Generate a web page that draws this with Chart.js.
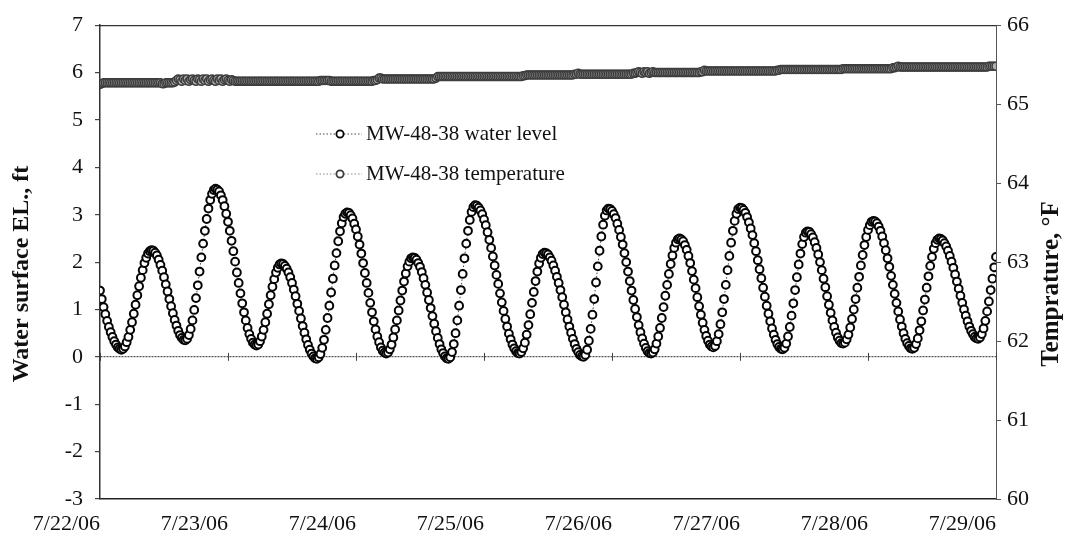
<!DOCTYPE html>
<html>
<head>
<meta charset="utf-8">
<script src="https://cdn.jsdelivr.net/npm/chart.js@4.4.1/dist/chart.umd.min.js"></script>
<style>
  html, body { margin: 0; padding: 0; background: #ffffff; }
  #wrap { width: 1070px; height: 546px; position: relative; }
</style>
</head>
<body>
<div id="wrap"><canvas id="c" width="1070" height="546"></canvas></div>
<script>
// Day boundaries shown on the time axis (one tick every 24 h)
const dayLabels = ['7/22/06', '7/23/06', '7/24/06', '7/25/06', '7/26/06', '7/27/06', '7/28/06', '7/29/06'];

// Logger interval, minutes
const SAMPLE_MINUTES = 20;

// MW-48-38 water surface elevation, ft (left axis)
const waterLevel = [
  1.40,1.22,1.05,0.90,0.76,0.63,0.52,0.42,0.33,0.26,0.20,0.17,0.15,
  0.17,0.22,0.31,0.42,0.57,0.73,0.91,1.10,1.30,1.49,1.67,1.83,1.98,2.09,2.18,2.23,2.25,
  2.24,2.20,2.14,2.05,1.94,1.82,1.68,1.53,1.38,1.22,1.07,0.92,0.78,0.66,0.55,0.46,0.40,0.36,0.35,
  0.38,0.46,0.59,0.77,0.99,1.24,1.51,1.80,2.10,2.39,2.66,2.91,3.13,3.31,3.44,3.52,3.55,
  3.53,3.49,3.41,3.31,3.18,3.02,2.85,2.66,2.45,2.23,2.01,1.78,1.56,1.34,1.13,0.94,0.77,0.61,0.48,0.38,0.30,0.26,0.24,
  0.26,0.33,0.43,0.57,0.73,0.91,1.11,1.30,1.48,1.64,1.78,1.88,1.95,1.97,
  1.96,1.92,1.86,1.78,1.68,1.56,1.42,1.28,1.12,0.97,0.81,0.65,0.51,0.37,0.25,0.15,0.07,0.01,-0.03,-0.04,
  -0.01,0.06,0.19,0.36,0.57,0.82,1.08,1.36,1.65,1.93,2.19,2.44,2.65,2.82,2.95,3.02,3.05,
  3.04,2.99,2.92,2.81,2.69,2.54,2.37,2.18,1.98,1.77,1.56,1.35,1.14,0.94,0.75,0.58,0.43,0.31,0.20,0.13,0.09,0.07,
  0.09,0.16,0.26,0.41,0.58,0.77,0.98,1.19,1.40,1.59,1.76,1.91,2.01,2.08,2.10,
  2.09,2.05,1.98,1.90,1.79,1.66,1.52,1.36,1.20,1.03,0.86,0.70,0.54,0.40,0.27,0.16,0.08,0.01,-0.03,-0.04,
  -0.01,0.10,0.27,0.50,0.77,1.08,1.41,1.75,2.08,2.39,2.66,2.89,3.06,3.16,3.20,
  3.19,3.15,3.09,3.01,2.90,2.78,2.63,2.47,2.30,2.12,1.93,1.73,1.54,1.34,1.15,0.97,0.80,0.64,0.49,0.37,0.26,0.18,0.12,0.08,0.07,
  0.10,0.18,0.30,0.47,0.67,0.90,1.14,1.37,1.60,1.80,1.97,2.09,2.17,2.20,
  2.19,2.16,2.10,2.03,1.93,1.82,1.69,1.56,1.41,1.26,1.10,0.94,0.79,0.64,0.51,0.38,0.27,0.17,0.10,0.04,0.01,0.00,
  0.04,0.15,0.34,0.59,0.89,1.22,1.57,1.91,2.24,2.54,2.79,2.98,3.09,3.13,
  3.12,3.08,3.01,2.93,2.81,2.68,2.53,2.37,2.19,2.00,1.80,1.60,1.40,1.20,1.01,0.84,0.67,0.52,0.39,0.28,0.19,0.12,0.08,0.07,
  0.09,0.16,0.28,0.43,0.61,0.82,1.05,1.29,1.52,1.75,1.96,2.14,2.30,2.41,2.48,2.50,
  2.48,2.44,2.36,2.26,2.13,1.98,1.81,1.63,1.45,1.26,1.07,0.89,0.72,0.57,0.44,0.34,0.26,0.22,0.20,
  0.23,0.33,0.48,0.69,0.94,1.22,1.52,1.83,2.13,2.41,2.66,2.87,3.02,3.12,3.15,
  3.14,3.10,3.04,2.95,2.84,2.71,2.57,2.40,2.23,2.04,1.85,1.66,1.46,1.27,1.08,0.91,0.75,0.60,0.47,0.36,0.27,0.21,0.17,0.16,
  0.19,0.28,0.43,0.63,0.87,1.13,1.41,1.68,1.95,2.18,2.38,2.53,2.62,2.65,
  2.64,2.59,2.52,2.42,2.30,2.16,2.00,1.83,1.65,1.47,1.28,1.10,0.93,0.77,0.63,0.51,0.41,0.34,0.29,0.28,
  0.30,0.37,0.47,0.62,0.80,1.00,1.22,1.46,1.69,1.93,2.15,2.36,2.53,2.68,2.78,2.85,2.87,
  2.86,2.82,2.75,2.66,2.54,2.40,2.25,2.08,1.90,1.71,1.52,1.33,1.14,0.96,0.79,0.64,0.50,0.38,0.29,0.23,0.18,0.17,
  0.19,0.27,0.39,0.56,0.75,0.98,1.21,1.46,1.70,1.92,2.11,2.28,2.40,2.47,2.50,
  2.49,2.46,2.40,2.33,2.24,2.13,2.01,1.88,1.74,1.59,1.44,1.29,1.14,1.00,0.87,0.75,0.64,0.55,0.48,0.42,0.39,0.38,
  0.41,0.48,0.60,0.76,0.96,1.17,1.41,1.65,1.89,2.11
];

// MW-48-38 water temperature, °F (right axis)
const temperature = [
  65.25,65.26,65.27,65.27,65.27,65.27,65.27,65.27,65.27,65.27,
  65.27,65.27,65.27,65.27,65.27,65.27,65.27,65.27,65.27,65.27,
  65.27,65.27,65.27,65.27,65.27,65.27,65.27,65.27,65.27,65.27,
  65.27,65.27,65.27,65.27,65.27,65.26,65.26,65.27,65.27,65.27,
  65.27,65.27,65.28,
  65.30,65.32,65.31,65.29,65.32,65.30,65.32,65.29,65.31,65.32,
  65.30,65.29,65.32,65.31,65.29,65.32,65.30,65.32,65.29,65.31,
  65.32,65.30,65.29,65.32,65.30,65.32,65.29,65.31,65.32,65.30,
  65.29,65.31,65.30,
  65.29,65.29,65.29,65.29,65.29,65.29,65.29,65.29,65.29,65.29,
  65.29,65.29,65.29,65.29,65.29,65.29,65.29,65.29,65.29,65.29,
  65.29,65.29,65.29,65.29,65.29,65.29,65.29,65.29,65.29,65.29,
  65.29,65.29,65.29,65.29,65.29,65.29,65.29,65.29,65.29,65.29,
  65.29,65.29,65.29,65.29,65.29,65.29,65.29,65.29,65.30,65.30,
  65.30,65.30,65.30,65.30,65.29,65.29,65.29,65.29,65.29,65.29,
  65.29,65.29,65.29,65.29,65.29,65.29,65.29,65.29,65.29,65.29,
  65.29,65.29,65.29,65.29,65.29,65.29,65.29,65.29,65.30,65.30,
  65.31,
  65.33,65.33,65.32,65.32,65.32,65.32,65.32,65.32,65.32,65.32,
  65.32,65.32,65.32,65.32,65.32,65.32,65.32,65.32,65.32,65.32,
  65.32,65.32,65.32,65.32,65.32,65.32,65.32,65.32,65.32,65.32,
  65.32,65.32,65.33,
  65.35,65.35,65.35,65.35,65.35,65.35,65.35,65.35,65.35,65.35,
  65.35,65.35,65.35,65.35,65.35,65.35,65.35,65.35,65.35,65.35,
  65.35,65.35,65.35,65.35,65.35,65.35,65.35,65.35,65.35,65.35,
  65.35,65.35,65.35,65.35,65.35,65.35,65.35,65.35,65.35,65.35,
  65.35,65.35,65.35,65.35,65.35,65.35,65.35,65.35,65.36,65.36,
  65.37,65.37,65.37,65.37,65.37,65.37,65.37,65.37,65.37,65.37,
  65.37,65.37,65.37,65.37,65.37,65.37,65.37,65.37,65.37,65.37,
  65.37,65.37,65.37,65.37,65.37,65.37,65.37,65.38,65.38,
  65.39,65.38,65.38,65.38,65.38,65.38,65.38,65.38,65.38,65.38,
  65.38,65.38,65.38,65.38,65.38,65.38,65.38,65.38,65.38,65.38,
  65.38,65.38,65.38,65.38,65.38,65.38,65.38,65.38,65.38,65.38,
  65.38,65.39,65.39,
  65.40,65.41,65.40,65.39,65.41,65.40,65.41,65.39,65.40,65.41,
  65.40,65.40,65.40,65.40,65.40,65.40,65.40,65.40,65.40,65.40,
  65.40,65.40,65.40,65.40,65.40,65.40,65.40,65.40,65.40,65.40,
  65.40,65.40,65.40,65.40,65.40,65.40,65.41,65.41,
  65.43,65.42,65.42,65.42,65.42,65.42,65.42,65.42,65.42,65.42,
  65.42,65.42,65.42,65.42,65.42,65.42,65.42,65.42,65.42,65.42,
  65.42,65.42,65.42,65.42,65.42,65.42,65.42,65.42,65.42,65.42,
  65.42,65.42,65.42,65.42,65.42,65.42,65.42,65.42,65.42,65.42,
  65.42,65.43,65.43,
  65.44,65.44,65.44,65.44,65.44,65.44,65.44,65.44,65.44,65.44,
  65.44,65.44,65.44,65.44,65.44,65.44,65.44,65.44,65.44,65.44,
  65.44,65.44,65.44,65.44,65.44,65.44,65.44,65.44,65.44,65.44,
  65.44,65.44,65.44,65.44,65.44,
  65.45,65.45,65.45,65.45,65.45,65.45,65.45,65.45,65.45,65.45,
  65.45,65.45,65.45,65.45,65.45,65.45,65.45,65.45,65.45,65.45,
  65.45,65.45,65.45,65.45,65.45,65.45,65.45,65.45,65.46,65.46,
  65.47,65.48,65.47,65.47,65.47,65.47,65.47,65.47,65.47,65.47,
  65.47,65.47,65.47,65.47,65.47,65.47,65.47,65.47,65.47,65.47,
  65.47,65.47,65.47,65.47,65.47,65.47,65.47,65.47,65.47,65.47,
  65.47,65.47,65.47,65.47,65.47,65.47,65.47,65.47,65.47,65.47,
  65.47,65.47,65.47,65.47,65.47,65.47,65.47,65.47,65.47,65.47,
  65.47,65.47,65.48,65.48,65.48,65.48,65.48
];

const SERIF = '"Liberation Serif", "Times New Roman", Times, serif';
Chart.defaults.font.family = SERIF;
Chart.defaults.color = '#111';

// elapsed hours since 7/22/06 00:00 for each reading
const hoursOf = (i) => i * SAMPLE_MINUTES / 60;
const waterPoints = waterLevel.map((v, i) => ({ x: hoursOf(i), y: v }));
const tempPoints = temperature.map((v, i) => ({ x: hoursOf(i), y: v }));

// Frame line on top, day ticks on the zero line, in-plot legend and both axis titles
const chartDecor = {
  id: 'chartDecor',
  beforeDatasetsDraw(chart) {
    const { ctx, chartArea: a, scales } = chart;
    const x = scales.x, y = scales.y;
    ctx.save();
    ctx.strokeStyle = '#333';
    ctx.lineWidth = 1.2;
    ctx.beginPath();
    ctx.moveTo(a.left, a.top + 0.5);
    ctx.lineTo(a.right, a.top + 0.5);
    ctx.stroke();
    const y0 = y.getPixelForValue(0);
    ctx.lineWidth = 1;
    ctx.strokeStyle = '#444';
    x.ticks.forEach(t => {
      const px = Math.round(x.getPixelForValue(t.value)) + 0.5;
      ctx.beginPath();
      ctx.moveTo(px, y0 - 4);
      ctx.lineTo(px, y0 + 4);
      ctx.stroke();
    });
    ctx.restore();
  },
  afterDraw(chart) {
    const { ctx } = chart;
    ctx.save();
    // legend inside the plotting area
    const rows = [
      { ds: chart.data.datasets[0], y: 134 },
      { ds: chart.data.datasets[1], y: 174 }
    ];
    const lx0 = 316, lx1 = 362, cx = 340, tx = 366;
    ctx.font = '21px ' + SERIF;
    ctx.textBaseline = 'middle';
    ctx.textAlign = 'left';
    rows.forEach(r => {
      const ds = r.ds;
      ctx.strokeStyle = ds.borderColor;
      ctx.lineWidth = 1;
      ctx.setLineDash(ds.borderDash || []);
      ctx.beginPath();
      ctx.moveTo(lx0, r.y);
      ctx.lineTo(lx1, r.y);
      ctx.stroke();
      ctx.setLineDash([]);
      ctx.beginPath();
      ctx.arc(cx, r.y, 3.6, 0, Math.PI * 2);
      ctx.fillStyle = '#ffffff';
      ctx.fill();
      ctx.lineWidth = 1.8;
      ctx.strokeStyle = ds.pointBorderColor;
      ctx.stroke();
      ctx.fillStyle = '#111';
      ctx.fillText(ds.label, tx, r.y);
    });
    ctx.textAlign = 'center';
    // left axis title, reading bottom to top
    ctx.save();
    ctx.font = 'bold 24px ' + SERIF;
    ctx.translate(chart.scales.y.left + 22, 274);
    ctx.rotate(-Math.PI / 2);
    ctx.fillText('Water surface EL., ft', 0, 0);
    ctx.restore();
    // right axis title, reading bottom to top
    ctx.save();
    ctx.font = 'bold 25px ' + SERIF;
    ctx.translate(chart.scales.y2.right - 18, 284);
    ctx.rotate(-Math.PI / 2);
    ctx.fillText('Temprature, °F', 0, 0);
    ctx.restore();
    ctx.restore();
  }
};

new Chart(document.getElementById('c'), {
  type: 'line',
  data: {
    datasets: [
      {
        label: 'MW-48-38 water level',
        data: waterPoints,
        yAxisID: 'y',
        borderColor: '#444',
        borderWidth: 1,
        borderDash: [1.5, 2],
        pointRadius: 3.9,
        pointBorderWidth: 2,
        pointBorderColor: '#050505',
        pointBackgroundColor: '#ffffff',
        tension: 0
      },
      {
        label: 'MW-48-38 temperature',
        data: tempPoints,
        yAxisID: 'y2',
        borderColor: '#888',
        borderWidth: 1,
        borderDash: [1.5, 2],
        pointRadius: 4,
        pointBorderWidth: 1.5,
        pointBorderColor: '#3c3c3c',
        pointBackgroundColor: '#b0b0b0',
        tension: 0
      }
    ]
  },
  options: {
    responsive: false,
    animation: false,
    devicePixelRatio: 1,
    layout: { padding: { top: 23, left: 0, right: 0, bottom: 0 } },
    plugins: {
      legend: { display: false },
      tooltip: { enabled: false }
    },
    scales: {
      x: {
        type: 'linear',
        min: 0,
        max: 168,
        grid: { drawOnChartArea: false, drawTicks: false },
        border: { display: true, color: '#222', width: 1.5 },
        ticks: {
          stepSize: 24,
          autoSkip: false,
          maxRotation: 0,
          align: 'end',
          padding: 12,
          font: { size: 22 },
          color: '#111',
          callback: (v) => dayLabels[Math.round(v / 24)]
        },
        afterFit: (s) => { s.height = 47; }
      },
      y: {
        position: 'left',
        min: -3,
        max: 7,
        grid: {
          color: (c) => (c.tick && c.tick.value === 0 ? '#555' : 'rgba(0,0,0,0)'),
          lineWidth: 1.2,
          tickColor: '#444',
          tickLength: 5
        },
        border: { display: true, color: '#333', width: 1.5, dash: [2, 1] },
        ticks: { stepSize: 1, padding: 12, font: { size: 22 }, color: '#111' },
        afterFit: (s) => { s.width = 100; }
      },
      y2: {
        position: 'right',
        min: 60,
        max: 66,
        grid: { drawOnChartArea: false, tickColor: '#555', tickLength: 5 },
        border: { display: true, color: '#555', width: 1, dash: [1, 2] },
        ticks: { stepSize: 1, padding: 6, font: { size: 22 }, color: '#111' },
        afterFit: (s) => { s.width = 74; }
      }
    }
  },
  plugins: [chartDecor]
});
</script>
</body>
</html>
